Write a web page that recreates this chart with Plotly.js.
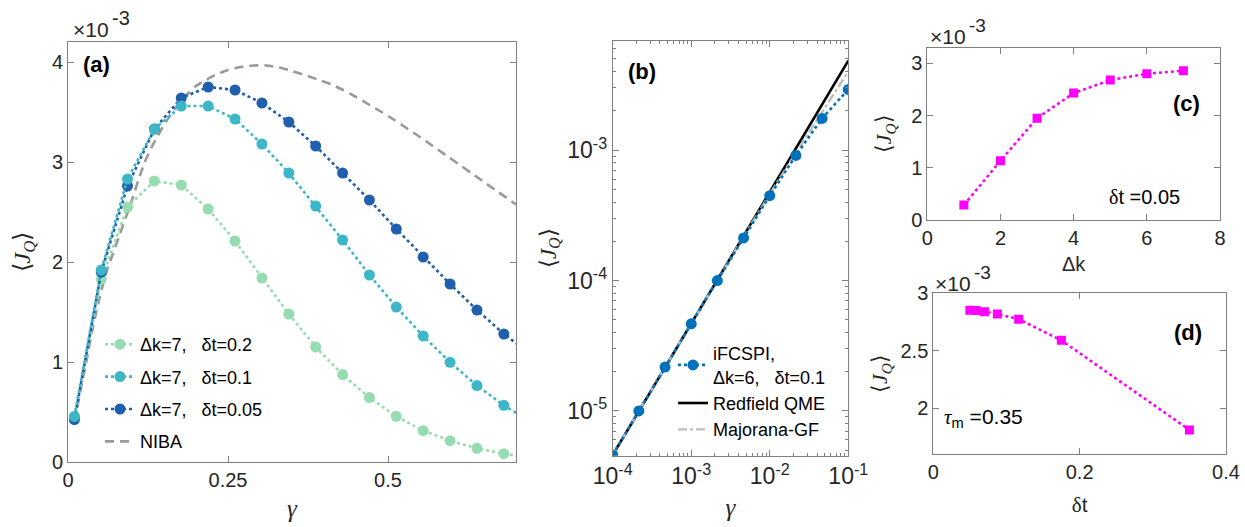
<!DOCTYPE html>
<html>
<head>
<meta charset="utf-8">
<script src="https://cdn.plot.ly/plotly-3.0.1.min.js"></script>
<style>html,body{margin:0;padding:0;background:#fff;}#chart{width:1245px;height:527px;}</style>
</head>
<body>
<div id="chart"></div>
<script>
// ---------- Panel (a): <J_Q> (units of 1e-3) vs gamma ----------
const gammaA = [0.01, 0.052, 0.093, 0.135, 0.177, 0.219, 0.261, 0.303, 0.345, 0.387, 0.429, 0.471, 0.513, 0.555, 0.597, 0.639, 0.681, 0.723];
const jqDt02 = [0.45, 1.83, 2.55, 2.81, 2.77, 2.53, 2.21, 1.84, 1.48, 1.15, 0.874, 0.644, 0.457, 0.313, 0.213, 0.137, 0.083, 0.045];
const jqDt01 = [0.455, 1.92, 2.83, 3.33, 3.56, 3.56, 3.43, 3.18, 2.89, 2.56, 2.22, 1.87, 1.55, 1.26, 0.997, 0.764, 0.567, 0.40];
const jqDt005 = [0.424, 1.90, 2.76, 3.33, 3.64, 3.75, 3.72, 3.59, 3.40, 3.16, 2.89, 2.62, 2.33, 2.05, 1.78, 1.52, 1.28, 1.08];
const gammaNIBA = [0.01, 0.02, 0.03, 0.04, 0.05, 0.06, 0.07, 0.08, 0.09, 0.10, 0.11, 0.12, 0.13, 0.14, 0.15, 0.16, 0.17, 0.18, 0.19, 0.20, 0.21, 0.23, 0.25, 0.27, 0.29, 0.31, 0.33, 0.35, 0.37, 0.39, 0.41, 0.43, 0.45, 0.47, 0.49, 0.51, 0.53, 0.55, 0.57, 0.59, 0.61, 0.63, 0.65, 0.67, 0.69, 0.70];
const jqNIBA = [0.40, 0.73, 1.05, 1.38, 1.66, 1.90, 2.08, 2.26, 2.44, 2.62, 2.82, 3.00, 3.14, 3.26, 3.37, 3.47, 3.56, 3.64, 3.70, 3.76, 3.80, 3.87, 3.92, 3.95, 3.965, 3.965, 3.945, 3.91, 3.87, 3.825, 3.78, 3.72, 3.65, 3.575, 3.50, 3.42, 3.335, 3.25, 3.16, 3.07, 2.98, 2.89, 2.80, 2.71, 2.62, 2.575];
const namesA = ["\u0394k=7,\u00a0\u00a0\u00a0\u03b4t=0.2", "\u0394k=7,\u00a0\u00a0\u00a0\u03b4t=0.1", "\u0394k=7,\u00a0\u00a0\u00a0\u03b4t=0.05", "NIBA"];

// ---------- Panel (b): log-log ----------
const gammaB = [1e-4, 2.15e-4, 4.64e-4, 1e-3, 2.15e-3, 4.64e-3, 1e-2, 2.15e-2, 4.64e-2, 1e-1];
const jqIFCSPI = [4.6e-6, 1.0e-5, 2.17e-5, 4.66e-5, 1.0e-4, 2.12e-4, 4.47e-4, 9.1e-4, 1.75e-3, 2.92e-3];
const gammaRed = [1e-4, 1e-3, 1e-2, 1e-1];
const jqRedfield = [4.6e-6, 4.7e-5, 4.8e-4, 4.85e-3];
const gammaMaj = [1e-4, 1e-3, 1e-2, 3e-2, 1e-1];
const jqMajorana = [4.6e-6, 4.68e-5, 4.6e-4, 1.3e-3, 4.0e-3];
const namesB = ["iFCSPI,<br>\u0394k=6,\u00a0\u00a0\u00a0\u03b4t=0.1", "Redfield QME", "Majorana-GF"];
const xTickValsB = [1e-4, 1e-3, 1e-2, 1e-1];
const xTickTextB = ["10<sup>-4</sup>", "10<sup>-3</sup>", "10<sup>-2</sup>", "10<sup>-1</sup>"];
const yTickValsB = [1e-5, 1e-4, 1e-3];
const yTickTextB = ["10<sup>-5</sup>", "10<sup>-4</sup>", "10<sup>-3</sup>"];

// ---------- Panel (c): <J_Q> (1e-3) vs Delta k ----------
const deltaK = [1, 2, 3, 4, 5, 6, 7];
const jqVsK = [0.287, 1.135, 1.95, 2.43, 2.68, 2.80, 2.86];

// ---------- Panel (d): <J_Q> (1e-3) vs delta t ----------
const deltaT = [0.05, 0.0583, 0.07, 0.0875, 0.1167, 0.175, 0.35];
const jqVsDt = [2.853, 2.85, 2.84, 2.82, 2.775, 2.59, 1.81];

// minor tick lists for the log panel
const xMinorB = [2e-4,3e-4,4e-4,5e-4,6e-4,7e-4,8e-4,9e-4,2e-3,3e-3,4e-3,5e-3,6e-3,7e-3,8e-3,9e-3,2e-2,3e-2,4e-2,5e-2,6e-2,7e-2,8e-2,9e-2];
const yMinorB = [5e-6,6e-6,7e-6,8e-6,9e-6,2e-5,3e-5,4e-5,5e-5,6e-5,7e-5,8e-5,9e-5,2e-4,3e-4,4e-4,5e-4,6e-4,7e-4,8e-4,9e-4,2e-3,3e-3,4e-3,5e-3,6e-3];

const W = 1245, H = 527;
const px = v => v / W;
const py = v => 1 - v / H;

const cGreen = "#97dcb0", cTeal = "#3db7c7", cDark = "#1f5fae", cBlue = "#0072bd", cMag = "#ff00ff";
const sans = "Liberation Sans, Arial, sans-serif";
const tickFont = {family: sans, size: 20, color: "#262626"};
const serifIt = "Liberation Serif, Times New Roman, serif";
const frame = "#808080";

function axBase(extra) {
  return Object.assign({
    showline: true, mirror: "ticks", linecolor: frame, linewidth: 1,
    ticks: "inside", ticklen: 6, tickcolor: frame, tickwidth: 1,
    showgrid: false, zeroline: false, tickfont: tickFont, fixedrange: true
  }, extra);
}

const jqTitle = "\u27e8<i>J</i><sub><i>Q</i></sub>\u27e9";

const traces = [
  // panel a
  {x: gammaNIBA, y: jqNIBA, name: namesA[3], mode: "lines", line: {color: "#999999", width: 2.6, dash: "9px,6px", shape: "spline", smoothing: 0.6}, xaxis: "x", yaxis: "y", legend: "legend", legendrank: 4, legendgroup: "a4"},
  {x: gammaA, y: jqDt02, name: namesA[0], mode: "lines+markers", line: {color: cGreen, width: 2.6, dash: "dot"}, marker: {color: cGreen, size: 11}, xaxis: "x", yaxis: "y", legend: "legend", legendrank: 1, legendgroup: "a1"},
  {x: gammaA, y: jqDt005, name: namesA[2], mode: "lines+markers", line: {color: cDark, width: 2.6, dash: "dot"}, marker: {color: cDark, size: 11}, xaxis: "x", yaxis: "y", legend: "legend", legendrank: 3, legendgroup: "a3"},
  {x: gammaA, y: jqDt01, name: namesA[1], mode: "lines+markers", line: {color: cTeal, width: 2.6, dash: "dot"}, marker: {color: cTeal, size: 11}, xaxis: "x", yaxis: "y", legend: "legend", legendrank: 2, legendgroup: "a2"},
  // panel b
  {x: gammaRed, y: jqRedfield, name: namesB[1], mode: "lines", line: {color: "#000000", width: 2.6}, xaxis: "x2", yaxis: "y2", legend: "legend2", legendrank: 2, legendgroup: "b2"},
  {x: gammaMaj, y: jqMajorana, name: namesB[2], mode: "lines", line: {color: "#bdbdbd", width: 2.4, dash: "dashdot", shape: "spline"}, xaxis: "x2", yaxis: "y2", legend: "legend2", legendrank: 3, legendgroup: "b3"},
  {x: gammaB, y: jqIFCSPI, name: namesB[0], mode: "lines+markers", line: {color: cBlue, width: 2.6, dash: "dot"}, marker: {color: cBlue, size: 11}, xaxis: "x2", yaxis: "y2", legend: "legend2", legendrank: 1, legendgroup: "b1"},
  // panel c
  {x: deltaK, y: jqVsK, mode: "lines+markers", line: {color: cMag, width: 2.6, dash: "dot"}, marker: {color: cMag, size: 9, symbol: "square"}, xaxis: "x3", yaxis: "y3", showlegend: false},
  // panel d
  {x: deltaT, y: jqVsDt, mode: "lines+markers", line: {color: cMag, width: 2.6, dash: "dot"}, marker: {color: cMag, size: 9, symbol: "square"}, xaxis: "x4", yaxis: "y4", showlegend: false}
];

function ann(text, x, y, size, bold, color, family) {
  return {text: bold ? "<b>" + text + "</b>" : text, xref: "paper", yref: "paper", x: px(x), y: py(y), xanchor: "left", yanchor: "middle",
    showarrow: false, font: {family: family || sans, size: size, color: color || "#000"}};
}

const layout = {
  width: W, height: H, autosize: false,
  margin: {l: 0, r: 0, t: 0, b: 0},
  paper_bgcolor: "#ffffff", plot_bgcolor: "#ffffff",
  font: tickFont,
  xaxis: axBase({domain: [px(68), px(516)], range: [0, 0.7], tickvals: [0, 0.25, 0.5], ticktext: ["0", "0.25", "0.5"], anchor: "y",
    title: {text: "<i>\u03b3</i>", font: {family: serifIt, size: 25, color: "#262626"}, standoff: 9}}),
  yaxis: axBase({domain: [py(462), py(42)], range: [0, 4.2], tickvals: [0, 1, 2, 3, 4], anchor: "x",
    title: {text: jqTitle, font: {family: serifIt, size: 24, color: "#262626"}, standoff: 14}}),
  xaxis2: axBase({domain: [px(612.7), px(848.3)], type: "log", range: [-4, -1], tickvals: xTickValsB, ticktext: xTickTextB, anchor: "y2",
    tickfont: {family: sans, size: 23, color: "#262626"},
    minor: {tickvals: xMinorB, ticks: "inside", ticklen: 3, tickcolor: frame},
    title: {text: "<i>\u03b3</i>", font: {family: serifIt, size: 25, color: "#262626"}, standoff: 10}}),
  yaxis2: axBase({domain: [py(455.7), py(40.7)], type: "log", range: [Math.log10(4.54e-6), Math.log10(6.9e-3)], tickvals: yTickValsB, ticktext: yTickTextB, anchor: "x2",
    tickfont: {family: sans, size: 23, color: "#262626"},
    minor: {tickvals: yMinorB, ticks: "inside", ticklen: 3, tickcolor: frame},
    title: {text: jqTitle, font: {family: serifIt, size: 23, color: "#262626"}, standoff: 4}}),
  xaxis3: axBase({domain: [px(927.3), px(1220)], range: [0, 8], tickvals: [0, 2, 4, 6, 8], anchor: "y3",
    title: {text: "\u0394k", font: {family: sans, size: 20, color: "#262626"}, standoff: 8}}),
  yaxis3: axBase({domain: [py(220), py(47.7)], range: [0, 3.3], tickvals: [0, 1, 2, 3], anchor: "x3",
    title: {text: jqTitle, font: {family: serifIt, size: 22, color: "#262626"}, standoff: 13}}),
  xaxis4: axBase({domain: [px(933.3), px(1226)], range: [0, 0.4], tickvals: [0, 0.2, 0.4], ticktext: ["0", "0.2", "0.4"], anchor: "y4",
    title: {text: "<span style=\"font-family:Liberation Serif\">\u03b4</span>t", font: {family: sans, size: 21, color: "#262626"}, standoff: 15}}),
  yaxis4: axBase({domain: [py(454), py(293.3)], range: [1.6, 3], tickvals: [2, 2.5, 3], ticktext: ["2", "2.5", "3"], anchor: "x4",
    title: {text: jqTitle, font: {family: serifIt, size: 22, color: "#262626"}, standoff: 6}}),
  legend: {x: px(100), y: py(326), xanchor: "left", yanchor: "top", bgcolor: "rgba(255,255,255,0)", borderwidth: 0,
    font: {family: sans, size: 18, color: "#000"}, traceorder: "grouped", tracegroupgap: 6, itemwidth: 30},
  legend2: {x: px(673), y: py(335), xanchor: "left", yanchor: "top", bgcolor: "rgba(255,255,255,0)", borderwidth: 0,
    font: {family: sans, size: 18, color: "#000"}, traceorder: "grouped", tracegroupgap: 0, itemwidth: 30},
  annotations: [
    ann("(a)", 81, 65, 22, true),
    ann("(b)", 626, 72, 22, true),
    ann("(c)", 1171, 103, 22, true),
    ann("(d)", 1172, 332, 22, true),
    ann("<span style=\"font-family:Liberation Serif\">\u03b4</span>t =0.05", 1107, 197, 20),
    ann("<span style=\"font-family:Liberation Serif\"><i>\u03c4</i></span><sub>m</sub> =0.35", 942, 418, 21),
    // x10^-3 scale factors
    ann("\u00d710", 71, 30, 21, false, "#262626"),
    ann("-3", 110, 18, 20, false, "#262626"),
    ann("\u00d710", 928, 36, 21, false, "#262626"),
    ann("-3", 967, 26, 19, false, "#262626"),
    ann("\u00d710", 933, 283, 21, false, "#262626"),
    ann("-3", 972, 272, 19, false, "#262626")
  ],
  showlegend: true
};

Plotly.newPlot("chart", traces, layout, {displayModeBar: false, staticPlot: true});
</script>
</body>
</html>
